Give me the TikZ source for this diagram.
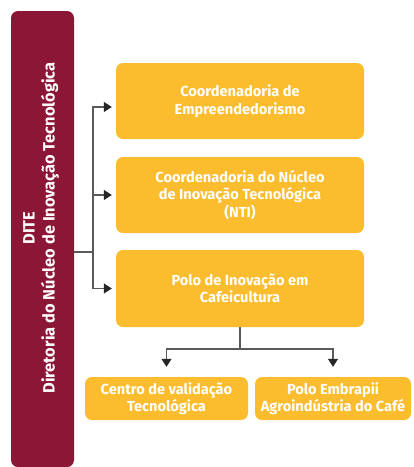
\documentclass[tikz,border=0pt]{standalone}
\usepackage{fontspec}
\setmainfont{Fira Sans}
\usetikzlibrary{arrows.meta}
\definecolor{vinho}{HTML}{8C1636}
\definecolor{amarelo}{HTML}{FBBC2D}
\definecolor{traco}{HTML}{5A5A5A}
\begin{document}
\begin{tikzpicture}[x=1pt,y=-1pt,
  caixa/.style={fill=amarelo, rounded corners=7pt, align=center, text=white, font=\fontsize{14.6}{17.5}\selectfont\bfseries, inner sep=0pt},
  ligacao/.style={draw=traco, line width=1.1pt},
  seta/.style={ligacao, -{Triangle[length=8pt,width=10pt]}, arrows={[color=black!85]}}]
\useasboundingbox (0,0) rectangle (414,467);
\node[fill=vinho, rounded corners=7pt, minimum width=63pt, minimum height=456pt, inner sep=0pt] (dite) at (42.5,239) {};
\node[rotate=90, align=center, text=white, font=\fontsize{16.4}{20}\selectfont\bfseries] (ditetxt) at (41,228) {DITE\\Diretoria do Núcleo de Inovação Tecnológica};
\node[caixa, minimum width=248pt, minimum height=76pt] (empre) at (240,101) {Coordenadoria de\\Empreendedorismo};
\node[caixa, minimum width=248pt, minimum height=76pt] (nti) at (240,195) {Coordenadoria do Núcleo\\de Inovação Tecnológica\\(NTI)};
\node[caixa, minimum width=248pt, minimum height=77pt] (polo) at (240,288.5) {Polo de Inovação em\\Cafeicultura};
\node[caixa, minimum width=163pt, minimum height=43pt] (centro) at (166.5,398.5) {Centro de validação\\Tecnológica};
\node[caixa, minimum width=156pt, minimum height=43pt] (embrapii) at (333,398.5) {Polo Embrapii\\Agroindústria do Café};
\coordinate (split) at (93,252);
\coordinate (branch) at (240,349);
\draw[ligacao] (dite.east |- split) -- (split);
\draw[seta, shorten >=4pt] (split) |- ([yshift=-6pt]empre.west);
\draw[seta, shorten >=4pt] (split) |- (nti.west);
\draw[seta, shorten >=4pt] (split) |- (polo.west);
\draw[ligacao] (polo.south) -- (branch);
\draw[seta, shorten >=10pt] (branch) -| (centro.north);
\draw[seta, shorten >=10pt] (branch) -| (embrapii.north);
\end{tikzpicture}
\end{document}
